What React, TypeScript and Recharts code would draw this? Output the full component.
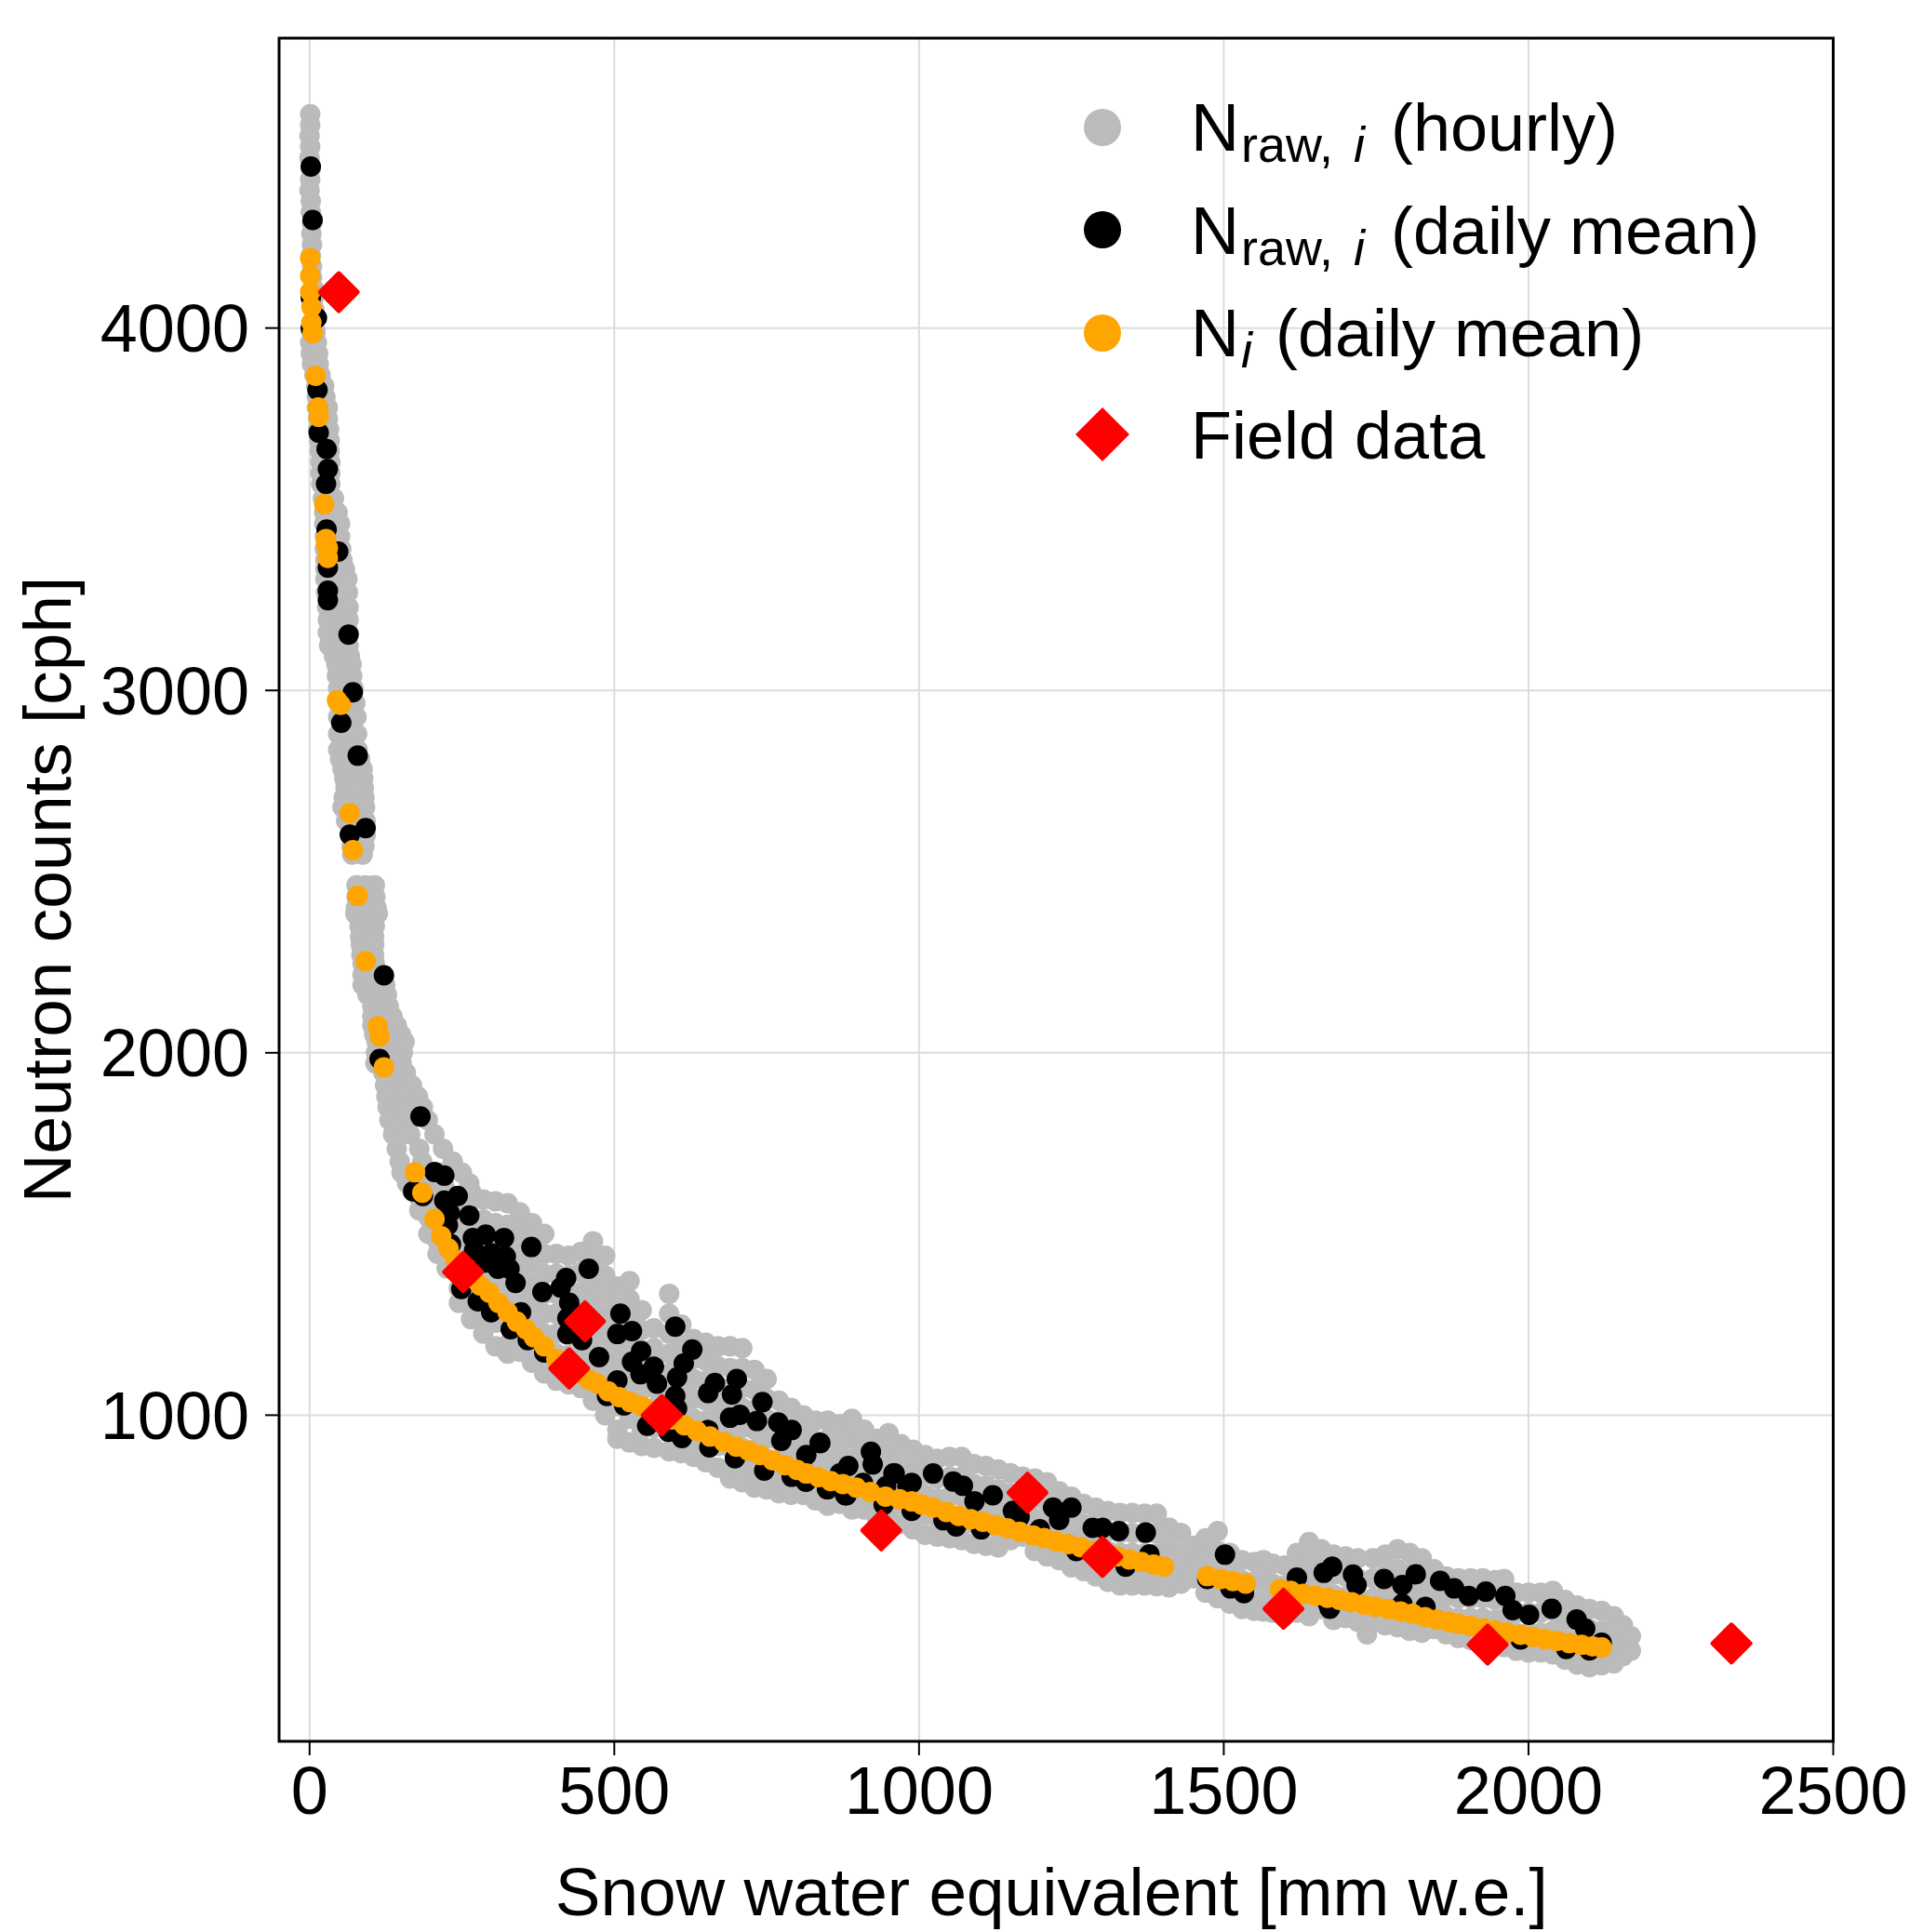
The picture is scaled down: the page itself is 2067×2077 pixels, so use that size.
import {
  CartesianGrid,
  Legend,
  ReferenceArea,
  Scatter,
  ScatterChart,
  XAxis,
  YAxis,
} from 'recharts';

// Neutron counts against snow water equivalent.

const X_TICKS = [0, 500, 1000, 1500, 2000, 2500];
const Y_TICKS = [1000, 2000, 3000, 4000];

const FONT = '"Liberation Sans", Arial, sans-serif';
const GRAY = '#bbbbbb';
const BLACK = '#000000';
const ORANGE = '#ffa500';
const RED = '#ff0000';

// hourly cloud, steep part: [y, x...]
const hourlyRows: number[][] = [
  [4590, 1], [4560, 1], [4530, 0], [4500, 1], [4470, 0], [4440, 2], [4410, 1], [4380, 0], [4350, 2],
  [4320, 2], [4290, 4], [4260, 3], [4230, 4], [4200, 2], [4170, 4], [4140, 4], [4110, 6], [4080, 6],
  [4050, 8], [4020, 8], [3990, 10, 3], [3960, 1, 12], [3930, 2, 14], [3900, 4, 15], [3870, 8, 18],
  [3840, 11, 24], [3810, 12, 26], [3780, 12, 30], [3750, 14, 30], [3720, 14, 32], [3690, 16, 33],
  [3660, 17, 33], [3630, 18, 34], [3600, 18, 34], [3570, 19, 34], [3530, 22, 40], [3491, 24, 46],
  [3460, 24, 50], [3425, 25, 50], [3390, 25, 52], [3360, 26, 54], [3335, 26, 58], [3307, 26, 45, 62],
  [3270, 27, 45, 63], [3229, 29, 45, 64], [3195, 30, 48, 64], [3160, 30, 48, 64], [3124, 32, 50, 64],
  [3095, 40, 55, 66], [3072, 44, 56, 69], [3040, 45, 60, 70], [3006, 47, 60, 72], [2965, 47, 62, 75],
  [2927, 47, 62, 77], [2880, 47, 62, 78], [2836, 47, 62, 79], [2810, 50, 65, 83], [2783, 54, 70, 87],
  [2757, 57, 72, 88], [2731, 59, 74, 89], [2705, 56, 72, 90], [2678, 54, 72, 91], [2640, 60, 78, 92],
  [2600, 67, 80, 92], [2570, 69, 82, 90], [2547, 70, 87], [2462, 77, 92, 107], [2430, 77, 92, 108],
  [2400, 76, 92, 110], [2384, 75, 93, 112], [2350, 82, 95, 107], [2320, 83, 95, 106], [2298, 84, 95, 106],
  [2270, 85, 96, 106], [2246, 87, 97, 107], [2215, 87, 105, 118], [2187, 87, 105, 124], [2160, 95, 112, 127],
  [2128, 103, 117, 130], [2100, 103, 120, 136], [2076, 103, 122, 143], [2050, 106, 125, 150],
  [2030, 110, 133, 156], [2000, 109, 130, 153], [1971, 108, 130, 151], [1945, 121, 140, 158],
  [1910, 124, 145, 168], [1879, 126, 150, 178], [1850, 128, 155, 186], [1814, 131, 160, 194],
  [1775, 137, 165, 205], [1735, 143, 180, 219], [1700, 148, 185, 235], [1669, 151, 185, 215, 250],
  [1640, 160, 190, 220, 262], [1617, 169, 195, 225, 265],
];

// hourly cloud, flat part: [x, y...]
const hourlyColumns: number[][] = [
  [180, 1600, 1565], [195, 1600, 1545, 1500], [210, 1590, 1535, 1480, 1445],
  [225, 1565, 1510, 1455, 1405], [245, 1570, 1515, 1460, 1405, 1350, 1310],
  [265, 1590, 1535, 1480, 1425, 1370, 1315, 1265], [285, 1595, 1540, 1485, 1430, 1375, 1320, 1265, 1225],
  [305, 1590, 1530, 1475, 1420, 1365, 1310, 1255, 1190], [325, 1585, 1525, 1470, 1415, 1360, 1305, 1250, 1195, 1170],
  [345, 1560, 1505, 1450, 1395, 1340, 1285, 1230, 1175], [365, 1530, 1475, 1420, 1365, 1310, 1255, 1200, 1145],
  [385, 1500, 1445, 1390, 1335, 1280, 1225, 1170, 1115], [405, 1445, 1390, 1335, 1280, 1225, 1170, 1115, 1095],
  [425, 1440, 1385, 1330, 1275, 1220, 1165, 1110, 1085], [445, 1450, 1395, 1340, 1285, 1230, 1175, 1120, 1075],
  [465, 1480, 1425, 1370, 1315, 1260, 1205, 1150, 1095, 1040], [485, 1440, 1385, 1330, 1275, 1220, 1165, 1110, 1055, 1000],
  [505, 1355, 1300, 1245, 1190, 1135, 1080, 1025, 960, 935], [525, 1370, 1320, 1265, 1210, 1155, 1100, 1045, 990, 925],
  [545, 1290, 1235, 1180, 1125, 1070, 1015, 960, 915], [565, 1240, 1185, 1130, 1075, 1020, 965, 910],
  [590, 1335, 1280, 1225, 1170, 1115, 1060, 1005, 950, 900], [610, 1250, 1195, 1140, 1085, 1030, 975, 920, 895],
  [630, 1210, 1155, 1100, 1045, 990, 935, 885], [650, 1200, 1150, 1095, 1040, 985, 930, 870],
  [670, 1190, 1135, 1080, 1025, 970, 915, 855], [690, 1190, 1130, 1075, 1020, 965, 910, 850, 825],
  [710, 1185, 1130, 1075, 1020, 965, 910, 855, 815], [730, 1125, 1070, 1015, 960, 905, 850, 800],
  [750, 1100, 1045, 990, 935, 880, 825, 795], [770, 1040, 985, 930, 875, 820, 785],
  [790, 1020, 965, 910, 855, 800, 780], [810, 1000, 945, 890, 835, 780], [830, 985, 930, 875, 820, 765],
  [850, 985, 935, 880, 825, 770, 750], [870, 975, 920, 865, 810, 755], [890, 990, 935, 880, 825, 770, 740],
  [910, 960, 905, 850, 795, 740], [930, 935, 880, 825, 770, 720], [950, 950, 895, 840, 785, 730, 705],
  [970, 920, 865, 810, 755, 700], [990, 905, 850, 795, 740, 685], [1010, 890, 835, 780, 725, 670],
  [1030, 880, 825, 770, 715, 665], [1050, 885, 830, 775, 720, 660], [1070, 885, 830, 775, 720, 655],
  [1090, 865, 810, 755, 700, 645], [1110, 860, 805, 750, 695, 640], [1130, 850, 795, 740, 685, 635],
  [1150, 840, 785, 730, 675, 655], [1170, 830, 775, 720, 665], [1190, 825, 770, 715, 660, 625],
  [1210, 815, 760, 705, 650, 610], [1230, 790, 735, 680, 625, 600], [1250, 775, 720, 665, 610, 580],
  [1270, 755, 700, 645, 590, 570], [1290, 745, 690, 635, 580, 555], [1310, 735, 680, 625, 570, 540],
  [1330, 730, 675, 620, 565, 530], [1350, 730, 675, 620, 565, 530], [1370, 728, 673, 618, 563, 530],
  [1390, 728, 673, 618, 563, 528], [1410, 690, 635, 580, 525], [1430, 675, 620, 565, 535],
  [1450, 640, 595, 550], [1470, 660, 610, 555, 510], [1490, 680, 625, 570, 515, 495],
  [1510, 620, 565, 510, 480], [1530, 600, 545, 490, 465], [1550, 595, 540, 485, 460],
  [1565, 600, 545, 490, 458], [1580, 590, 535, 480, 455], [1600, 585, 530, 475, 445],
  [1620, 620, 565, 510, 455], [1640, 650, 595, 540, 485, 445], [1660, 630, 575, 520, 465],
  [1680, 615, 560, 505, 450, 435], [1700, 610, 555, 500, 440], [1720, 605, 550, 495, 430],
  [1735, 395], [1745, 605, 550, 495, 430], [1765, 615, 560, 505, 450, 420],
  [1785, 630, 575, 520, 465, 415], [1805, 620, 565, 510, 455, 405], [1825, 605, 550, 495, 440, 400],
  [1845, 575, 520, 465, 410], [1865, 555, 500, 445, 395], [1885, 550, 495, 440, 385],
  [1905, 550, 495, 440, 380], [1925, 550, 495, 440, 375], [1945, 545, 490, 435, 368],
  [1960, 548, 493, 438, 360], [1980, 510, 455, 400, 350], [2000, 510, 455, 400, 345],
  [2020, 510, 455, 400, 345], [2040, 515, 460, 405, 340], [2060, 490, 435, 380, 325],
  [2080, 475, 420, 365, 312], [2100, 465, 410, 355, 305], [2120, 460, 405, 350, 310],
  [2140, 445, 390, 335, 315], [2155, 420, 375, 335], [2168, 390, 350],
];

const dailyRaw: number[][] = [
  [2, 4446], [5, 4298], [2, 4084], [12, 4028], [2, 4000], [13, 3829], [15, 3711], [28, 3666], [30, 3611],
  [27, 3570], [47, 3383], [28, 3444], [30, 3339], [30, 3275], [30, 3249], [64, 3154], [71, 2995], [52, 2911],
  [79, 2820], [92, 2620], [66, 2602], [122, 2214], [115, 1983], [182, 1824], [205, 1671], [221, 1661],
  [170, 1618], [186, 1605], [243, 1605], [221, 1592], [230, 1558], [262, 1551], [227, 1524], [268, 1489],
  [289, 1498], [319, 1489], [364, 1464], [232, 1472], [270, 1455], [298, 1447], [322, 1438], [328, 1404],
  [338, 1365], [309, 1404], [287, 1421], [458, 1404], [421, 1378], [382, 1340], [412, 1352], [426, 1310],
  [423, 1267], [423, 1224], [447, 1207], [475, 1160], [510, 1280], [529, 1232], [505, 1224], [347, 1284],
  [330, 1237], [358, 1207], [276, 1314], [249, 1348], [298, 1284], [600, 1244], [628, 1181], [614, 1143],
  [544, 1177], [529, 1147], [565, 1134], [543, 1113], [505, 1096], [603, 1104], [570, 1087], [600, 1053],
  [603, 1018], [701, 1100], [665, 1089], [654, 1061], [693, 1057], [743, 1036], [706, 1001], [690, 993],
  [734, 984], [769, 980], [791, 959], [774, 929], [837, 924], [815, 890], [654, 959], [656, 911], [698, 881],
  [746, 847], [791, 830], [815, 817], [850, 796], [881, 779], [884, 860], [870, 839], [921, 899], [924, 864],
  [960, 839], [981, 804], [946, 804], [908, 813], [611, 937], [589, 954], [554, 971], [516, 1027], [488, 1053],
  [385, 1173], [838, 923], [958, 839], [988, 813], [1023, 839], [1056, 817], [1072, 805], [1091, 762],
  [1121, 779], [1154, 736], [1220, 745], [1250, 745], [1230, 711], [1285, 689], [1301, 689], [1328, 680],
  [1372, 676], [1378, 616], [1339, 582], [1258, 625], [1198, 685], [1165, 719], [1061, 693], [1040, 710],
  [1102, 685], [988, 736], [942, 753], [879, 779], [849, 796], [814, 817], [1502, 615], [1473, 548],
  [1511, 522], [1533, 509], [1620, 552], [1671, 479], [1678, 582], [1664, 565], [1712, 560], [1718, 531],
  [1763, 548], [1793, 531], [1815, 561], [1855, 543], [1878, 522], [1902, 501], [1930, 513], [1962, 501],
  [1974, 462], [2001, 449], [2038, 466], [2079, 436], [2093, 411], [2120, 372], [2100, 351], [2062, 355],
  [1987, 381], [1674, 466], [1793, 479], [1831, 471],
];

const dailyCorrected: number[][] = [
  [1, 4193], [1, 4144], [1, 4100], [3, 4058], [3, 4015], [5, 3986], [10, 3868], [14, 3781], [15, 3755],
  [24, 3514], [27, 3418], [27, 3405], [30, 3393], [30, 3366], [45, 2973], [51, 2960], [66, 2661], [71, 2559],
  [79, 2433], [92, 2253], [112, 2073], [115, 2045], [122, 1960], [173, 1670], [185, 1614],
  [205, 1541], [216, 1494], [228, 1460], [240, 1425], [251, 1404], [265, 1378], [280, 1358], [295, 1338],
  [310, 1310], [325, 1284], [340, 1258], [355, 1237], [368, 1215], [385, 1190], [405, 1155], [423, 1130],
  [440, 1115], [458, 1098], [472, 1087], [490, 1066], [508, 1050], [526, 1036], [545, 1025], [560, 1012],
  [575, 1001], [595, 988], [615, 972], [635, 957], [657, 941], [680, 926], [700, 913], [720, 902], [739, 890],
  [760, 875], [780, 862], [800, 849], [815, 839], [835, 829], [855, 818], [875, 810], [897, 800], [920, 788],
  [945, 775], [968, 768], [988, 762], [1005, 753], [1023, 745], [1045, 733], [1065, 722], [1085, 713],
  [1105, 706], [1125, 697], [1145, 688], [1165, 678], [1187, 668], [1205, 661], [1225, 652], [1245, 644],
  [1265, 636], [1285, 625], [1305, 617], [1325, 610], [1345, 602], [1365, 595], [1385, 588], [1402, 582],
  [1473, 556], [1495, 548], [1515, 542], [1536, 535],
  [1592, 520], [1610, 515], [1630, 507], [1650, 502], [1670, 496], [1690, 490], [1710, 484], [1730, 477],
  [1749, 471], [1770, 465], [1790, 458], [1810, 452], [1830, 443], [1850, 436], [1870, 429], [1885, 424],
  [1905, 418], [1925, 412], [1945, 406], [1965, 400], [1987, 394], [2007, 388], [2027, 382], [2047, 377],
  [2067, 371], [2087, 366], [2105, 362], [2120, 359],
];

const fieldData: number[][] = [
  [48, 4099], [252, 1395], [452, 1259], [426, 1129], [578, 1000], [938, 682], [1178, 786], [1301, 609],
  [1598, 466], [1933, 367], [2333, 370],
];

const toPoints = (pairs: number[][]) => pairs.map(([x, y]) => ({ x, y }));
const hourly = [
  ...hourlyRows.flatMap(([y, ...xs]) => xs.map((x) => ({ x, y }))),
  ...hourlyColumns.flatMap(([x, ...ys]) => ys.map((y) => ({ x, y }))),
];

const dot = (fill: string) => (p: any) => <circle cx={p.cx} cy={p.cy} r={11} fill={fill} />;

const diamond = (p: any) => (
  <path
    d={`M${p.cx} ${p.cy - 20}L${p.cx + 20} ${p.cy}L${p.cx} ${p.cy + 20}L${p.cx - 20} ${p.cy}Z`}
    fill={RED}
    stroke={RED}
    strokeWidth={5}
    strokeLinejoin="round"
  />
);

function FigureLegend() {
  const sub = { fontSize: 54 };
  const it = { fontSize: 54, fontStyle: 'italic' };
  return (
    <svg width={900} height={460} style={{ display: 'block', fontFamily: FONT, fontSize: 72 }}>
      <circle cx={85} cy={77} r={20} fill={GRAY} />
      <circle cx={85} cy={187} r={20} fill={BLACK} />
      <circle cx={85} cy={298} r={20} fill={ORANGE} />
      <path d="M85 378L114 407L85 436L56 407Z" fill={RED} />
      <text x={180} y={102}>
        N
        <tspan x={234} y={114} {...sub}>raw,</tspan>
        <tspan x={355} y={114} {...it}>i</tspan>
        <tspan x={395} y={102}>(hourly)</tspan>
      </text>
      <text x={180} y={213}>
        N
        <tspan x={234} y={225} {...sub}>raw,</tspan>
        <tspan x={355} y={225} {...it}>i</tspan>
        <tspan x={395} y={213}>(daily mean)</tspan>
      </text>
      <text x={180} y={323}>
        N
        <tspan x={234} y={335} {...it}>i</tspan>
        <tspan x={271} y={323}>(daily mean)</tspan>
      </text>
      <text x={180} y={433}>Field data</text>
    </svg>
  );
}

export default function App() {
  return (
    <div style={{ position: 'absolute', left: 0, top: 0, fontFamily: FONT }}>
      <ScatterChart
        width={2067}
        height={2077}
        margin={{ top: 41, right: 96.5, bottom: 0, left: 0 }}
      >
        <CartesianGrid stroke="#dcdcdc" strokeWidth={2} />
        <XAxis
          type="number"
          dataKey="x"
          domain={[-50, 2500]}
          ticks={X_TICKS}
          interval={0}
          height={205}
          tickSize={15}
          tickMargin={12}
          axisLine={false}
          tickLine={{ stroke: '#000', strokeWidth: 2 }}
          tick={{ fontSize: 72, fill: '#000', fontFamily: FONT }}
          label={{
            value: 'Snow water equivalent [mm w.e.]',
            position: 'insideBottom',
            offset: 18,
            dx: -5,
            style: { fontSize: 73, fill: '#000', fontFamily: FONT },
          }}
        />
        <YAxis
          type="number"
          dataKey="y"
          domain={[100, 4800]}
          ticks={Y_TICKS}
          interval={0}
          width={300}
          tickSize={15}
          tickMargin={17}
          axisLine={false}
          tickLine={{ stroke: '#000', strokeWidth: 2 }}
          tick={{ fontSize: 72, fill: '#000', fontFamily: FONT }}
          label={{
            value: 'Neutron counts [cph]',
            angle: -90,
            position: 'insideLeft',
            offset: 50,
            style: { fontSize: 73, fill: '#000', fontFamily: FONT, textAnchor: 'middle' },
          }}
        />
        <Legend
          layout="vertical"
          align="center"
          verticalAlign="middle"
          content={() => <FigureLegend />}
          wrapperStyle={{ position: 'absolute', left: 1100, top: 60, width: 900, height: 460 }}
        />
        <Scatter name="Nraw,i (hourly)" data={hourly} shape={dot(GRAY)} fill={GRAY} isAnimationActive={false} />
        <Scatter name="Nraw,i (daily mean)" data={toPoints(dailyRaw)} shape={dot(BLACK)} fill={BLACK} isAnimationActive={false} />
        <Scatter name="Ni (daily mean)" data={toPoints(dailyCorrected)} shape={dot(ORANGE)} fill={ORANGE} isAnimationActive={false} />
        <Scatter name="Field data" data={toPoints(fieldData)} shape={diamond} fill={RED} isAnimationActive={false} />
        <ReferenceArea x1={-50} x2={2500} y1={100} y2={4800} fill="none" stroke="#000" strokeWidth={3} />
      </ScatterChart>
    </div>
  );
}
